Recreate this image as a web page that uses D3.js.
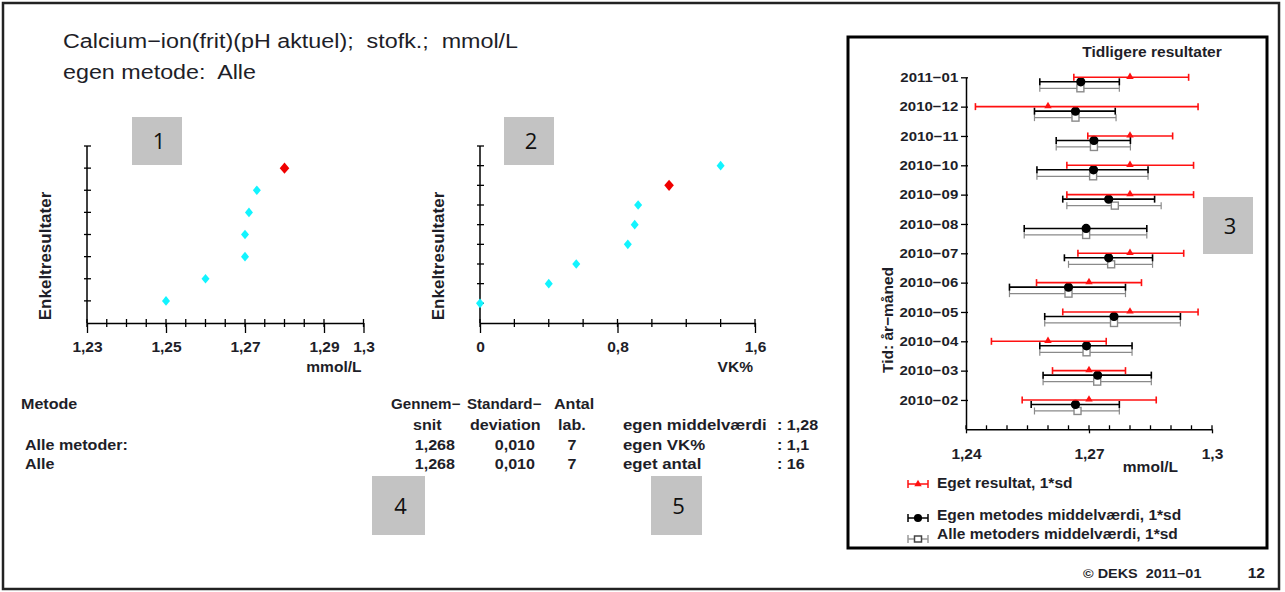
<!DOCTYPE html>
<html>
<head>
<meta charset="utf-8">
<script src="https://cdn.jsdelivr.net/npm/d3@7"></script>
<style>
  body { margin: 0; background: #fff; }
  svg { display: block; font-family: "Liberation Sans", Arial, sans-serif; }
  text { white-space: pre; }
</style>
</head>
<body>
<div id="chart"></div>
<script>
// enkeltresultater (laboratoriernes middelværdier) og eget resultat
var labMeans = [1.250, 1.260, 1.270, 1.270, 1.271, 1.273];
var ownMeanValue = 1.280;
var labVK = [0.00, 0.40, 0.56, 0.86, 0.90, 0.92, 1.40];
var ownVKValue = 1.10;

// tabel
var tableMethods = ["Alle metoder:", "Alle"];
var tableMeans = ["1,268", "1,268"];
var tableSDs = ["0,010", "0,010"];
var tableLabs = ["7", "7"];
var ownLabels = ["egen middelværdi", "egen VK%", "eget antal"];
var ownValues = [": 1,28", ": 1,1", ": 16"];

// tidligere resultater
var months = ["2010−02", "2010−03", "2010−04", "2010−05", "2010−06", "2010−07",
              "2010−08", "2010−09", "2010−10", "2010−11", "2010−12", "2011−01"];
var ownMean = [1.270, 1.270, 1.260, 1.280, 1.270, 1.280, null, 1.280, 1.280, 1.280, 1.260, 1.280];
var ownLo   = [1.2537, 1.2611, 1.2462, 1.2636, 1.2572, 1.2673, null, 1.2646, 1.2646, 1.2697, 1.2423, 1.2663];
var ownHi   = [1.2864, 1.2789, 1.2742, 1.2966, 1.2828, 1.2931, null, 1.2955, 1.2955, 1.2904, 1.2966, 1.2943];
var methMean = [1.2667, 1.2721, 1.2694, 1.2761, 1.2650, 1.2748, 1.2693, 1.2748, 1.2711, 1.2712, 1.2667, 1.2680];
var methLo   = [1.2559, 1.2588, 1.2580, 1.2592, 1.2506, 1.2640, 1.2542, 1.2636, 1.2573, 1.2620, 1.2567, 1.2580];
var methHi   = [1.2774, 1.2852, 1.2805, 1.2923, 1.2789, 1.2855, 1.2841, 1.2860, 1.2844, 1.2801, 1.2764, 1.2774];
var allMean = [1.2672, 1.2720, 1.2694, 1.2761, 1.2650, 1.2754, 1.2693, 1.2763, 1.2710, 1.2712, 1.2667, 1.2679];
var allLo   = [1.2567, 1.2588, 1.2580, 1.2592, 1.2506, 1.2650, 1.2542, 1.2646, 1.2573, 1.2620, 1.2567, 1.2580];
var allHi   = [1.2774, 1.2852, 1.2805, 1.2923, 1.2789, 1.2855, 1.2841, 1.2876, 1.2844, 1.2801, 1.2766, 1.2774];

var legendLabels = ["Eget resultat, 1*sd", "Egen metodes middelværdi, 1*sd", "Alle metoders middelværdi, 1*sd"];

var SX = 1.11; // teksten er lidt bredere end Arial
var ink = "#1e1e28";

var svg = d3.select("#chart").append("svg")
    .attr("width", 1285).attr("height", 592);

svg.append("rect").attr("x", 3).attr("y", 3).attr("width", 1276).attr("height", 586)
    .attr("fill", "#fff").attr("stroke", "#222").attr("stroke-width", 2.5);

function label(g, x, y, s, size, weight, anchor, sx) {
  return g.append("text")
      .attr("transform", "translate(" + x + "," + y + ") scale(" + (sx || SX) + ",1)")
      .attr("font-size", size).attr("font-weight", weight || "normal")
      .attr("text-anchor", anchor || "start").attr("fill", ink)
      .text(s);
}
function comma(v) { return String(+v.toFixed(3)).replace(".", ","); }

// overskrift
label(svg, 63, 48, "Calcium−ion(frit)(pH aktuel);  stofk.;  mmol/L", 21);
label(svg, 63, 79, "egen metode:  Alle", 21);

// grå nummerbokse
function numBox(x, y, w, h, n) {
  svg.append("rect").attr("x", x).attr("y", y).attr("width", w).attr("height", h).attr("fill", "#c3c3c3");
  svg.append("text").attr("x", x + w / 2 + 2).attr("y", y + h / 2 + 8)
      .attr("text-anchor", "middle").attr("font-size", 22).attr("fill", "#111")
      .attr("font-family", "'Open Sans', sans-serif").text(n);
}

// punktdiagram 1 og 2
function dotPlot(left, right, domain, majors, minors, values, ownValue, unit) {
  var pts = values.map(function(v) { return { v: v, own: false }; });
  pts.push({ v: ownValue, own: true });
  pts.sort(function(a, b) { return a.v - b.v || (a.own ? 1 : -1); });
  var n = pts.length;
  var x = d3.scaleLinear().domain(domain).range([left, right]);
  var y = d3.scaleLinear().domain([0, n + 1]).range([323, 146]);
  var g = svg.append("g");

  // y-akse
  g.append("line").attr("x1", left).attr("x2", left).attr("y1", y(0)).attr("y2", y(n + 1))
      .attr("stroke", "#000").attr("stroke-width", 1.5);
  g.selectAll(".yt").data(d3.range(1, n + 2)).join("line")
      .attr("x1", left - 3).attr("x2", left + 4)
      .attr("y1", function(d) { return y(d); }).attr("y2", function(d) { return y(d); })
      .attr("stroke", "#000").attr("stroke-width", 1.3);

  // x-akse
  g.append("g").attr("transform", "translate(0," + y(0) + ")")
      .call(d3.axisBottom(x).tickValues(majors).tickSize(10).tickSizeOuter(0).tickFormat(comma))
      .call(function(a) {
        a.select(".domain").attr("stroke", "#000").attr("stroke-width", 1.5);
        a.selectAll(".tick line").attr("stroke", "#000").attr("stroke-width", 1.3);
        a.selectAll(".tick text").attr("y", 19).attr("transform", "scale(" + SX + ",1)")
            .attr("font-size", 14).attr("font-weight", "bold").attr("fill", ink)
            .attr("font-family", "'Liberation Sans', Arial, sans-serif");
      });
  g.selectAll(".xt").data(minors.concat(majors)).join("line")
      .attr("x1", function(d) { return x(d); }).attr("x2", function(d) { return x(d); })
      .attr("y1", y(0) - 4).attr("y2", y(0) + 4)
      .attr("stroke", "#000").attr("stroke-width", 1.3);

  label(g, right - 2, 372, unit, 14, "bold", "end");
  g.append("text").attr("transform", "translate(" + (left - 36) + ",256) rotate(-90)")
      .attr("text-anchor", "middle").attr("font-size", 17).attr("font-weight", "bold")
      .attr("fill", ink).text("Enkeltresultater");

  g.selectAll(".pt").data(pts).join("path")
      .attr("transform", function(d, i) { return "translate(" + x(d.v) + "," + y(i + 1) + ")"; })
      .attr("d", function(d) { return d.own ? "M0,-5.6L4.8,0L0,5.6L-4.8,0Z" : "M0,-4.8L4,0L0,4.8L-4,0Z"; })
      .attr("fill", function(d) { return d.own ? "#f00000" : "#12f4ff"; });
}

dotPlot(87, 363.5, [1.23, 1.30], [1.23, 1.25, 1.27, 1.29, 1.30],
        d3.range(1.235, 1.29, 0.005).filter(function(v) { return Math.abs((v - 1.23) / 0.02 - Math.round((v - 1.23) / 0.02)) > 0.01; }),
        labMeans, ownMeanValue, "mmol/L");
dotPlot(480, 755, [0, 1.6], [0, 0.8, 1.6], [0.2, 0.4, 0.6, 1.0, 1.2, 1.4],
        labVK, ownVKValue, "VK%");

numBox(132, 117, 50, 48, "1");
numBox(504, 117, 50, 48, "2");

// tabel
var TX = 1.15;
label(svg, 21, 409, "Metode", 14, "bold", "start", TX);
label(svg, 391, 409, "Gennem−", 14, "bold", "start", 1.08);
label(svg, 467, 409, "Standard−", 14, "bold", "start", 1.08);
label(svg, 554, 409, "Antal", 14, "bold", "start", TX);
label(svg, 413, 430, "snit", 14, "bold", "start", TX);
label(svg, 470, 430, "deviation", 14, "bold", "start", TX);
label(svg, 558, 430, "lab.", 14, "bold", "start", TX);
var rowY = [450, 469];
tableMethods.forEach(function(m, i) {
  label(svg, 25, rowY[i], m, 14, "bold", "start", TX);
  label(svg, 455, rowY[i], tableMeans[i], 14, "bold", "end", TX);
  label(svg, 535, rowY[i], tableSDs[i], 14, "bold", "end", TX);
  label(svg, 572, rowY[i], tableLabs[i], 14, "bold", "middle", TX);
});
var ownY = [430, 450, 469];
ownLabels.forEach(function(s, i) {
  label(svg, 623, ownY[i], s, 14, "bold", "start", 1.2);
  label(svg, 777, ownY[i], ownValues[i], 14, "bold", "start", TX);
});
numBox(372, 476, 53, 59, "4");
numBox(651, 476, 51, 59, "5");

// tidligere resultater
svg.append("rect").attr("x", 848).attr("y", 37).attr("width", 419).attr("height", 511)
    .attr("fill", "none").attr("stroke", "#000").attr("stroke-width", 3);
label(svg, 1152, 57, "Tidligere resultater", 14, "bold", "middle");

var x3 = d3.scaleLinear().domain([1.24, 1.30]).range([966, 1212]);
var y3 = d3.scaleLinear().domain([0, 12]).range([429.3, 77.3]);
var g3 = svg.append("g");

g3.append("g").attr("transform", "translate(966,0)")
    .call(d3.axisLeft(y3).tickValues(d3.range(1, 13)).tickSize(4).tickSizeOuter(0)
        .tickFormat(function(d) { return months[d - 1]; }))
    .call(function(a) {
      a.select(".domain").attr("stroke", "#000").attr("stroke-width", 1.5);
      a.selectAll(".tick line").attr("stroke", "#000").attr("stroke-width", 1.3).attr("x2", -5).attr("x1", 2);
      a.selectAll(".tick text").attr("x", -7).attr("transform", "scale(" + SX + ",1)")
          .attr("font-size", 13.5).attr("font-weight", "bold").attr("fill", ink)
          .attr("font-family", "'Liberation Sans', Arial, sans-serif");
    });
g3.append("g").attr("transform", "translate(0," + y3(0) + ")")
    .call(d3.axisBottom(x3).tickValues([1.24, 1.27, 1.30]).tickSize(4).tickSizeOuter(0).tickFormat(comma))
    .call(function(a) {
      a.select(".domain").attr("stroke", "#000").attr("stroke-width", 1.5);
      a.selectAll(".tick line").attr("stroke", "#000").attr("stroke-width", 1.3);
      a.selectAll(".tick text").attr("y", 20).attr("transform", "scale(" + SX + ",1)")
          .attr("font-size", 14).attr("font-weight", "bold").attr("fill", ink)
          .attr("font-family", "'Liberation Sans', Arial, sans-serif");
    });
g3.selectAll(".xt").data(d3.range(0, 13)).join("line")
    .attr("x1", function(d) { return x3(1.24 + d * 0.005); }).attr("x2", function(d) { return x3(1.24 + d * 0.005); })
    .attr("y1", y3(0) - 4).attr("y2", y3(0))
    .attr("stroke", "#000").attr("stroke-width", 1.3);
label(g3, 1178, 472, "mmol/L", 14, "bold", "end");
g3.append("text").attr("transform", "translate(893,320) rotate(-90)")
    .attr("text-anchor", "middle").attr("font-size", 15.5).attr("font-weight", "bold")
    .attr("fill", ink).text("Tid: år−måned");

function errorBars(mean, lo, hi, dy, color, width) {
  var rows = months.map(function(m, i) { return { i: i + 1, m: mean[i], lo: lo[i], hi: hi[i] }; })
      .filter(function(d) { return d.m != null; });
  var g = g3.append("g").attr("stroke", color).attr("stroke-width", width);
  g.selectAll(".bar").data(rows).join("line")
      .attr("x1", function(d) { return x3(d.lo); }).attr("x2", function(d) { return x3(d.hi); })
      .attr("y1", function(d) { return y3(d.i) + dy; }).attr("y2", function(d) { return y3(d.i) + dy; });
  ["lo", "hi"].forEach(function(k) {
    g.selectAll(".cap" + k).data(rows).join("line")
        .attr("x1", function(d) { return x3(d[k]); }).attr("x2", function(d) { return x3(d[k]); })
        .attr("y1", function(d) { return y3(d.i) + dy - 3.5; }).attr("y2", function(d) { return y3(d.i) + dy + 3.5; });
  });
  return { g: g, rows: rows };
}

var triangle = d3.symbol().type(d3.symbolTriangle).size(24);

var gray = errorBars(allMean, allLo, allHi, 11, "#8a8a8a", 1.2);
gray.g.selectAll(".sq").data(gray.rows).join("rect")
    .attr("x", function(d) { return x3(d.m) - 3.5; }).attr("y", function(d) { return y3(d.i) + 11 - 3.5; })
    .attr("width", 7).attr("height", 7).attr("fill", "#fff").attr("stroke-width", 1.4);

var black = errorBars(methMean, methLo, methHi, 4.5, "#000", 1.6);
black.g.selectAll(".dot").data(black.rows).join("circle")
    .attr("cx", function(d) { return x3(d.m); }).attr("cy", function(d) { return y3(d.i) + 4.5; })
    .attr("r", 3.8).attr("fill", "#000");

var red = errorBars(ownMean, ownLo, ownHi, 0, "#ff1010", 1.6);
red.g.selectAll(".tri").data(red.rows).join("path")
    .attr("transform", function(d) { return "translate(" + x3(d.m) + "," + (y3(d.i) - 0.5) + ")"; })
    .attr("d", triangle).attr("fill", "#ff1010").attr("stroke", "none");

// forklaring
var legY = [484, 518, 539];
var legTextY = [488, 520, 539];
var legColor = ["#ff1010", "#000", "#9a9a9a"];
legendLabels.forEach(function(s, i) {
  var lg = svg.append("g").attr("stroke", legColor[i]).attr("stroke-width", 1.5);
  lg.append("line").attr("x1", 908).attr("x2", 928).attr("y1", legY[i]).attr("y2", legY[i]);
  lg.append("line").attr("x1", 908).attr("x2", 908).attr("y1", legY[i] - 4).attr("y2", legY[i] + 4);
  lg.append("line").attr("x1", 928).attr("x2", 928).attr("y1", legY[i] - 4).attr("y2", legY[i] + 4);
  if (i === 0) lg.append("path").attr("transform", "translate(918," + legY[i] + ")").attr("d", triangle)
      .attr("fill", legColor[i]).attr("stroke", "none");
  if (i === 1) lg.append("circle").attr("cx", 918).attr("cy", legY[i]).attr("r", 3.3).attr("fill", "#000");
  if (i === 2) lg.append("rect").attr("x", 914.5).attr("y", legY[i] - 3).attr("width", 7).attr("height", 6)
      .attr("fill", "#fff").attr("stroke", "#444");
  label(svg, 937, legTextY[i], s, 14, "bold");
});

numBox(1203, 197, 50, 57, "3");

// fod
label(svg, 1083, 578, "© DEKS  2011−01", 13, "bold");
label(svg, 1265, 578, "12", 14, "bold", "end");
</script>
</body>
</html>
